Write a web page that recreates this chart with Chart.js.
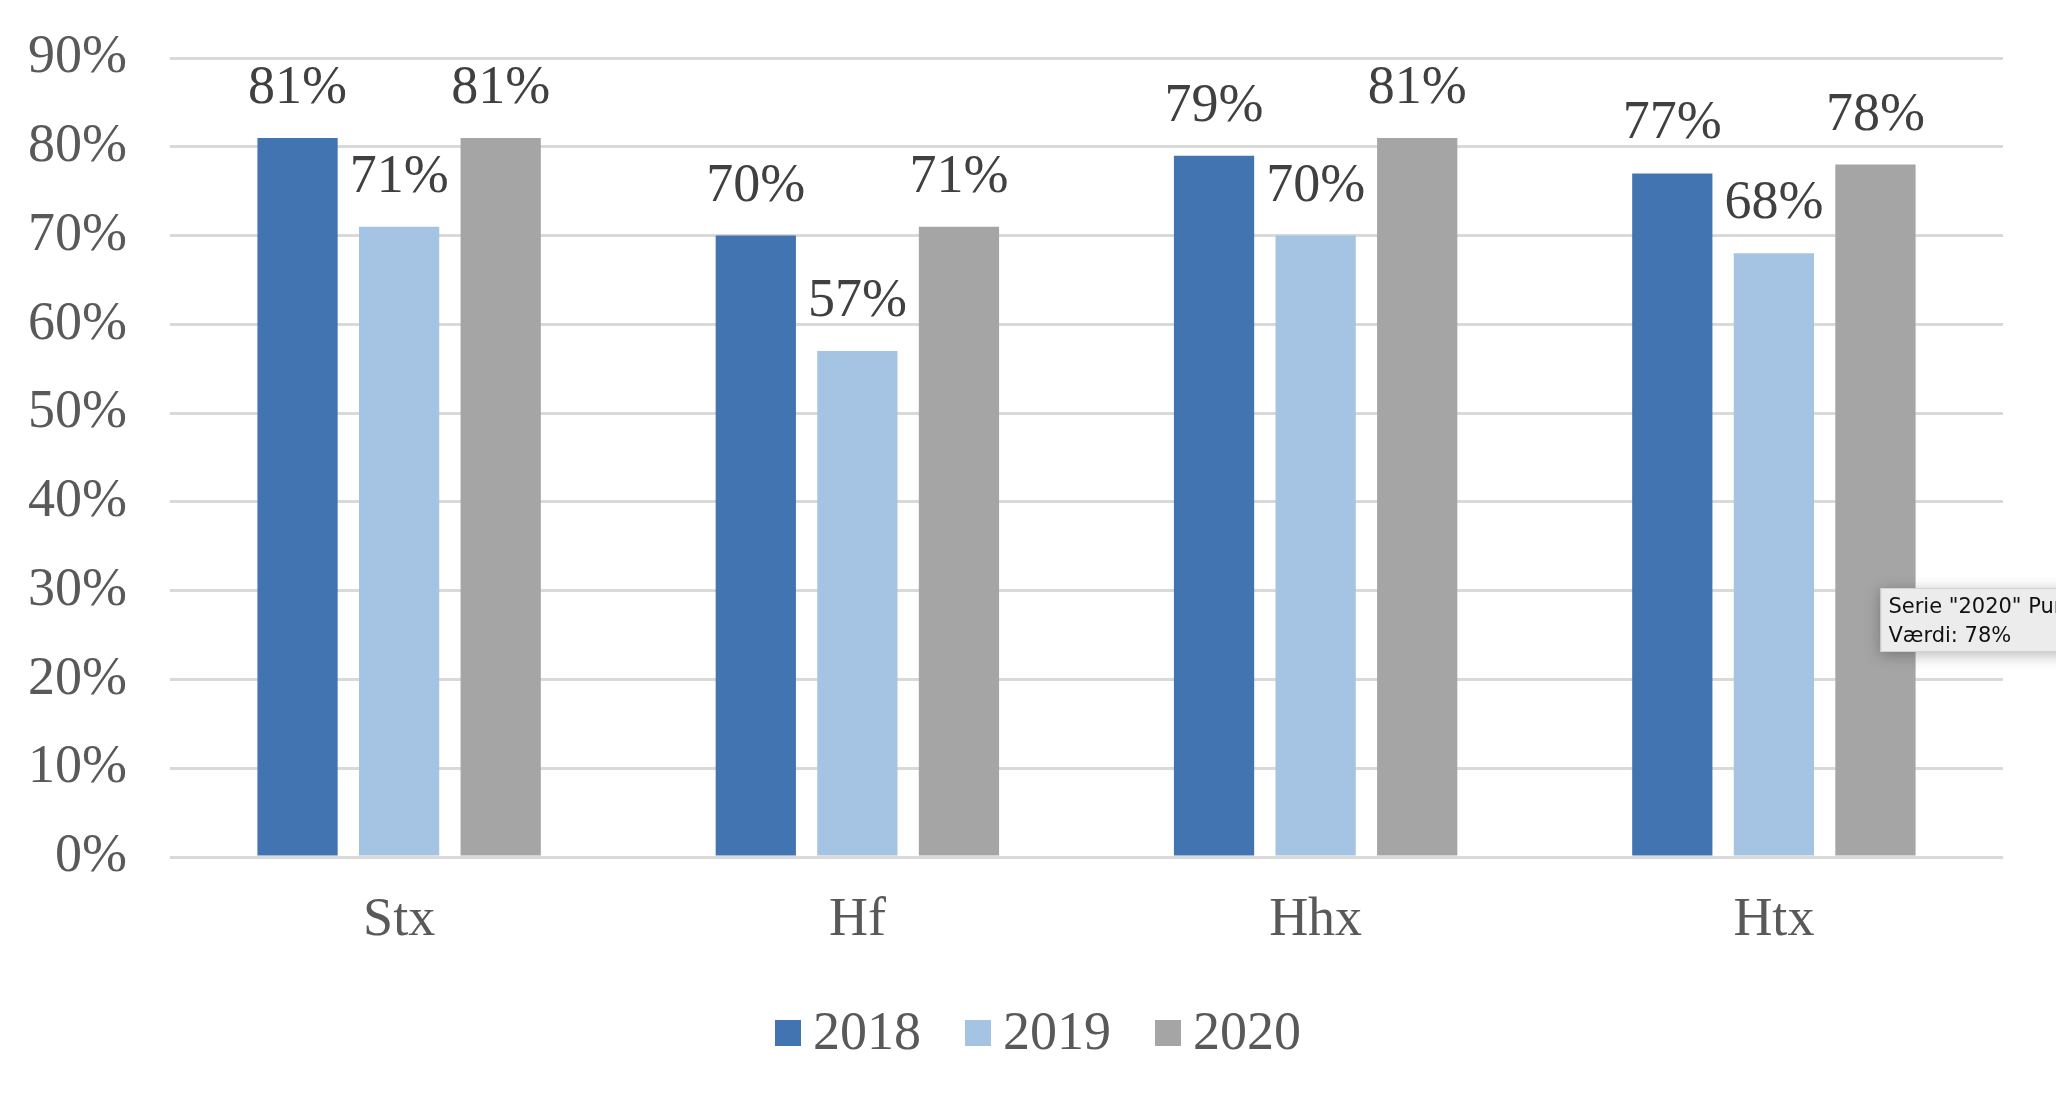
<!DOCTYPE html>
<html>
<head>
<meta charset="utf-8">
<script src="https://cdn.jsdelivr.net/npm/chart.js@4/dist/chart.umd.min.js"></script>
<style>
  html, body { margin: 0; padding: 0; background: #fff; }
  #wrap { width: 2056px; height: 1110px; }
</style>
</head>
<body>
<div id="wrap"><canvas id="chart" width="2056" height="1110"></canvas></div>
<script>
// chart data
const categories = ['Stx', 'Hf', 'Hhx', 'Htx'];
const years = ['2018', '2019', '2020'];
const values2018 = [81, 70, 79, 77];
const values2019 = [71, 57, 70, 68];
const values2020 = [81, 71, 81, 78];
const yTicks = [0, 10, 20, 30, 40, 50, 60, 70, 80, 90];

const colors = ['#4174B0', '#A5C3E2', '#A5A5A5'];
const serif = '"Liberation Serif", "Times New Roman", serif';
const axisGrey = '#595959';
const fontSize = 54;

// value labels above each bar
const barLabels = {
  id: 'barLabels',
  afterDatasetsDraw(chart) {
    const ctx = chart.ctx;
    ctx.save();
    ctx.font = fontSize + 'px ' + serif;
    ctx.fillStyle = '#404040';
    ctx.textAlign = 'center';
    ctx.textBaseline = 'alphabetic';
    chart.data.datasets.forEach((ds, i) => {
      chart.getDatasetMeta(i).data.forEach((bar, j) => {
        ctx.fillText(ds.data[j] + '%', bar.x, bar.y - 35);
      });
    });
    ctx.restore();
  }
};

// legend drawn by hand so the box/text spacing matches the original
const legendRow = {
  id: 'legendRow',
  afterDraw(chart) {
    const ctx = chart.ctx;
    ctx.save();
    ctx.font = fontSize + 'px ' + serif;
    ctx.textBaseline = 'middle';
    const box = 26, gap = 12, between = 44, cy = 1033;
    const items = chart.data.datasets.map(ds => ({ text: ds.label, color: ds.backgroundColor, w: ctx.measureText(ds.label).width }));
    const total = items.reduce((s, it) => s + box + gap + it.w, 0) + between * (items.length - 1);
    let x = chart.width / 2 + 10 - total / 2;
    items.forEach(it => {
      ctx.fillStyle = it.color;
      ctx.fillRect(x, cy - box / 2, box, box);
      ctx.fillStyle = axisGrey;
      ctx.fillText(it.text, x + box + gap, cy + 2);
      x += box + gap + it.w + between;
    });
    ctx.restore();
  }
};

// the hover box that was caught in the screenshot (Htx / 2020)
const hoverNote = {
  id: 'hoverNote',
  afterDraw(chart) {
    const bar = chart.getDatasetMeta(2).data[3];
    const lines = ['Serie "' + years[2] + '" Punkt "' + categories[3] + '"', 'Værdi: ' + values2020[3] + '%'];
    const ctx = chart.ctx;
    ctx.save();
    ctx.font = '21px "DejaVu Sans", sans-serif';
    const w = Math.max(...lines.map(l => ctx.measureText(l).width)) + 18;
    const x = bar.x + 5, y = 588, h = 64;
    ctx.shadowColor = 'rgba(0,0,0,0.28)';
    ctx.shadowBlur = 14;
    ctx.shadowOffsetY = 3;
    ctx.fillStyle = '#ECECEC';
    ctx.fillRect(x, y, w, h);
    ctx.shadowColor = 'transparent';
    ctx.strokeStyle = '#D2D2D2';
    ctx.lineWidth = 1;
    ctx.strokeRect(x + 0.5, y + 0.5, w - 1, h - 1);
    ctx.fillStyle = '#111';
    ctx.textBaseline = 'alphabetic';
    ctx.fillText(lines[0], x + 8, y + 25);
    ctx.fillText(lines[1], x + 8, y + 54);
    ctx.restore();
  }
};

new Chart(document.getElementById('chart'), {
  type: 'bar',
  data: {
    labels: categories,
    datasets: [
      { label: years[0], data: values2018, backgroundColor: colors[0] },
      { label: years[1], data: values2019, backgroundColor: colors[1] },
      { label: years[2], data: values2020, backgroundColor: colors[2] }
    ]
  },
  options: {
    responsive: false, devicePixelRatio: 1, animation: false, events: [],
    categoryPercentage: 0.665, barPercentage: 0.79,
    layout: { padding: { left: 29, right: 53, top: 58, bottom: 126 } },
    plugins: {
      legend: { display: false },
      tooltip: { enabled: false }
    },
    scales: {
      x: {
        grid: { display: false, drawTicks: false },
        border: { display: false },
        ticks: { font: { family: serif, size: fontSize }, color: axisGrey, padding: 31 },
        afterFit(axis) { axis.height = 127; axis.paddingLeft = 0; axis.paddingRight = 0; }
      },
      y: {
        min: 0, max: 90,
        afterBuildTicks(axis) { axis.ticks = yTicks.map(v => ({ value: v })); },
        ticks: { font: { family: serif, size: fontSize }, color: axisGrey, padding: 43, callback: v => v + '%' },
        grid: { color: '#D9D9D9', lineWidth: 3, drawTicks: false },
        border: { display: false },
        afterFit(axis) { axis.width = 141; axis.paddingTop = 0; axis.paddingBottom = 0; }
      }
    }
  },
  plugins: [barLabels, legendRow, hoverNote]
});
</script>
</body>
</html>
